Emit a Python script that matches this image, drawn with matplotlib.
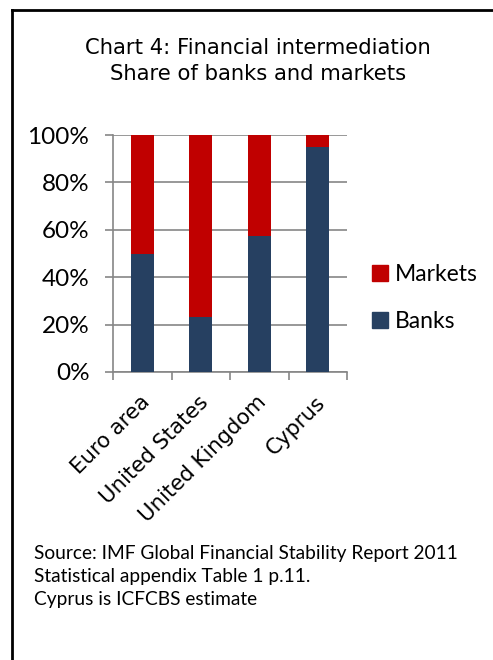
import matplotlib
matplotlib.use("Agg")
import matplotlib.pyplot as plt
from matplotlib.patches import Patch
from matplotlib.lines import Line2D
import numpy as np

# Data (shares, %)
countries = ["Euro area", "United States", "United Kingdom", "Cyprus"]
banks = [50, 23, 57.5, 95]
markets = [50, 77, 42.5, 5]
yticks = [0, 20, 40, 60, 80, 100]

bank_color = "#264061"
market_color = "#C00000"
grid_color = "#868686"

fig = plt.figure(figsize=(4.93, 6.6), dpi=100)
ax = fig.add_axes([113 / 493, 1 - 372 / 660, 234 / 493, 237 / 660])

x = np.arange(len(countries))
ax.bar(x, banks, width=0.39, color=bank_color, zorder=3)
ax.bar(x, markets, width=0.39, bottom=banks, color=market_color, zorder=3)

ax.set_xlim(-0.5, len(countries) - 0.5)
ax.set_ylim(0, 100)
ax.set_yticks(yticks)
ax.set_yticklabels([f"{v}%" for v in yticks], fontsize=17.5, family="Lato")
ax.yaxis.grid(True, color=grid_color, lw=1.2, zorder=0)

# category labels rotated, ticks at category boundaries
ax.set_xticks(np.arange(len(countries) + 1) - 0.5)
ax.set_xticklabels([])
ax.tick_params(axis="x", length=6, color=grid_color, width=1.2)
ax.tick_params(axis="y", length=6, color=grid_color, width=1.2, pad=11)
for i, name in enumerate(countries):
    ax.text(i - 0.05, -8.5, name, rotation=45, ha="right", va="top",
            rotation_mode="anchor", fontsize=15.3, family="DejaVu Sans",
            transform=ax.transData)

for side in ["top", "right"]:
    ax.spines[side].set_visible(False)
ax.spines["left"].set_color(grid_color)
ax.spines["bottom"].set_color(grid_color)
ax.spines["left"].set_linewidth(1.2)
ax.spines["bottom"].set_linewidth(1.2)

# title
fig.text(258 / 493, 1 - 48 / 660, "Chart 4: Financial intermediation",
         ha="center", va="center", fontsize=15.2, family="DejaVu Sans")
fig.text(258 / 493, 1 - 74 / 660, "Share of banks and markets",
         ha="center", va="center", fontsize=15.2, family="DejaVu Sans")

# legend
handles = [Patch(color=market_color), Patch(color=bank_color)]
fig.legend(handles, ["Markets", "Banks"], loc="center left",
           bbox_to_anchor=(351 / 493, 1 - 298 / 660), frameon=False,
           prop={"family": "Lato", "size": 16.5},
           handlelength=0.7, handleheight=0.7, handletextpad=0.3,
           labelspacing=1.15)

# source note
note = ["Source: IMF Global Financial Stability Report 2011",
        "Statistical appendix Table 1 p.11.",
        "Cyprus is ICFCBS estimate"]
for k, line in enumerate(note):
    fig.text(34 / 493, 1 - (554 + 22.5 * k) / 660, line, ha="left", va="center",
             fontsize=13.8, family="Lato")

# frame around the chart (left and top edges)
fig.add_artist(Line2D([11.5 / 493, 11.5 / 493], [0, 1 - 10 / 660],
                      transform=fig.transFigure, color="black", lw=2))
fig.add_artist(Line2D([11.5 / 493, 1], [1 - 10 / 660, 1 - 10 / 660],
                      transform=fig.transFigure, color="black", lw=2))

fig.savefig("out.png", dpi=100)
